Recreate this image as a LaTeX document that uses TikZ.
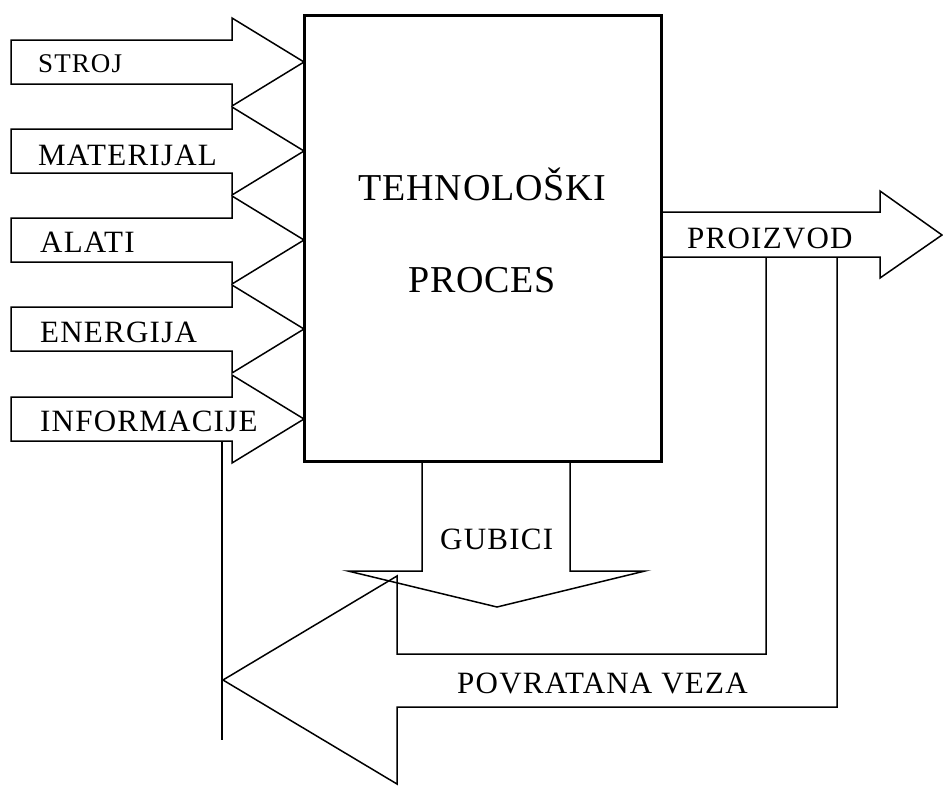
\documentclass[tikz,border=0pt]{standalone}
\usepackage{fontspec}
\setmainfont{Liberation Serif}
\newfontfamily\lblfont[LetterSpace=4]{Liberation Serif}
\newfontfamily\bigfont[LetterSpace=2]{Liberation Serif}
\usetikzlibrary{positioning,calc}

\begin{document}
\begin{tikzpicture}[x=1pt,y=-1pt,line join=miter,
  flow/.style={draw,line width=1.5pt},
  lbl/.style={anchor=base west,inner sep=0pt,font=\lblfont\fontsize{31}{36}\selectfont},
  big/.style={anchor=base,inner sep=0pt,font=\bigfont\fontsize{38}{44}\selectfont},
  procbox/.style={draw,line width=3pt,minimum width=357pt,minimum height=446pt,inner sep=0pt}]
\useasboundingbox (0,0) rectangle (943,785);
% process block
\node[procbox] (proc) at (482.5,238) {};
\node[big] (tehno) at (482.5,200) {TEHNOLOŠKI};
\node[big] (proces) at (482,292) {PROCES};
% inputs
\draw[flow] (11,40) -- (232,40) -- (232,18) -- (304,62) -- (232,106) -- (232,84) -- (11,84) -- cycle;
\draw[flow] (11,129) -- (232,129) -- (232,107) -- (304,151) -- (232,195) -- (232,173) -- (11,173) -- cycle;
\draw[flow] (11,218) -- (232,218) -- (232,196) -- (304,240) -- (232,284) -- (232,262) -- (11,262) -- cycle;
\draw[flow] (11,307) -- (232,307) -- (232,285) -- (304,329) -- (232,373) -- (232,351) -- (11,351) -- cycle;
\draw[flow] (11,397) -- (232,397) -- (232,375) -- (304,419) -- (232,463) -- (232,441) -- (11,441) -- cycle;
\node[lbl,font=\lblfont\fontsize{27}{32}\selectfont] (stroj) at (38,72) {STROJ};
\node[lbl] (materijal) at (38,165) {MATERIJAL};
\node[lbl] (alati) at (40,252) {ALATI};
\node[lbl] (energija) at (40,342) {ENERGIJA};
\node[lbl] (informacije) at (40,431) {INFORMACIJE};
\coordinate (infodrop) at (222,441);
\coordinate (infoend) at (222,740);
\draw[flow] (infodrop) -- (infoend);
% output
\draw[flow] (661,212) -- (880,212) -- (880,191) -- (942,235) -- (880,278) -- (880,257) -- (661,257);
\node[lbl] (proizvod) at (687,248) {PROIZVOD};
% feedback
\draw[flow] (766,257) -- (766,654) -- (397,654) -- (397,576) -- (223,680) -- (397,784) -- (397,707) -- (837,707) -- (837,257);
\node[lbl] (veza) at (457,693) {POVRATANA VEZA};
% losses
\draw[flow] (422,461) -- (422,571) -- (348,571) -- (497,607) -- (645,571) -- (570,571) -- (570,461);
\node[lbl] (gubici) at (440,549) {GUBICI};
\end{tikzpicture}
\end{document}
